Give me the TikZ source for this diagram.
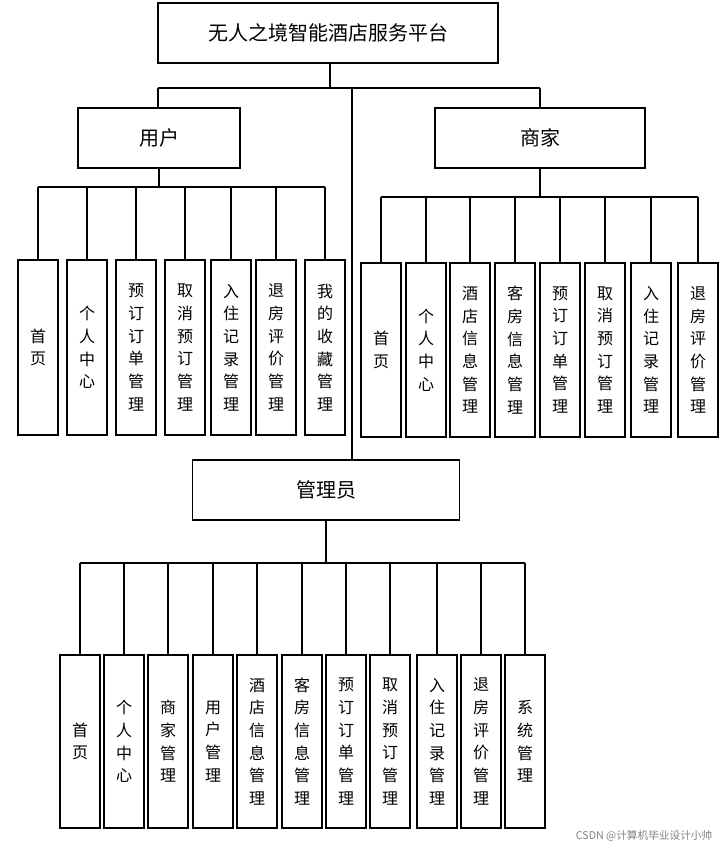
\documentclass[tikz,border=0pt]{standalone}
\usepackage{fontspec}
\newfontfamily\cjk{Noto Sans CJK SC}
\begin{document}
\begin{tikzpicture}[x=0.75pt,y=-0.75pt,
  big/.style={draw,thick,fill=white,minimum width=#1*0.75pt,minimum height=45pt,font=\cjk\fontsize{15}{18}\selectfont},
  leaf/.style={draw,thick,fill=white,minimum width=30pt,minimum height=#1*0.75pt,align=center,font=\cjk\fontsize{12}{17}\selectfont,inner sep=0pt},
  ln/.style={thick}]
\useasboundingbox (0,0) rectangle (719,849);
\node[big=340] (root) at (328,33) {无人之境智能酒店服务平台};
\node[big=162] (user) at (159,138) {用户};
\node[big=210] (shop) at (540,138) {商家};
\node[big=267] (admin) at (326,490) {管理员};
\coordinate (j) at (330,88);
\draw[ln] (root.south -| j) -- (j);
\draw[ln] (158,88) -- (540,88);
\draw[ln] (158,88) -- (user.north -| 158,0);
\draw[ln] (540,88) -- (shop.north);
\draw[ln] (352,88) -- (admin.north -| 352,0);
% user
\draw[ln] (user.south) -- (159,187);
\draw[ln] (38,187) -- (325,187);
\foreach \x/\t/\n in {38/首\\页/u1,87/个\\人\\中\\心/u2,136/预\\订\\订\\单\\管\\理/u3,185/取\\消\\预\\订\\管\\理/u4,231/入\\住\\记\\录\\管\\理/u5,276/退\\房\\评\\价\\管\\理/u6,325/我\\的\\收\\藏\\管\\理/u7}{
  \node[leaf=175] (\n) at (\x,347.5) {\t};
  \draw[ln] (\x,187) -- (\n.north);}
% shop
\draw[ln] (shop.south) -- (540,197);
\draw[ln] (381,197) -- (698,197);
\foreach \x/\t/\n in {381/首\\页/s1,426/个\\人\\中\\心/s2,470/酒\\店\\信\\息\\管\\理/s3,515/客\\房\\信\\息\\管\\理/s4,560/预\\订\\订\\单\\管\\理/s5,605/取\\消\\预\\订\\管\\理/s6,651/入\\住\\记\\录\\管\\理/s7,698/退\\房\\评\\价\\管\\理/s8}{
  \node[leaf=174] (\n) at (\x,350) {\t};
  \draw[ln] (\x,197) -- (\n.north);}
% admin
\draw[ln] (admin.south) -- (326,563);
\draw[ln] (80,563) -- (525,563);
\foreach \x/\t/\n in {80/首\\页/a1,124/个\\人\\中\\心/a2,168/商\\家\\管\\理/a3,213/用\\户\\管\\理/a4,257/酒\\店\\信\\息\\管\\理/a5,302/客\\房\\信\\息\\管\\理/a6,346/预\\订\\订\\单\\管\\理/a7,390/取\\消\\预\\订\\管\\理/a8,437/入\\住\\记\\录\\管\\理/a9,481/退\\房\\评\\价\\管\\理/a10,525/系\\统\\管\\理/a11}{
  \node[leaf=173] (\n) at (\x,741.5) {\t};
  \draw[ln] (\x,563) -- (\n.north);}
\node[font=\cjk\fontsize{8}{9}\selectfont,text=gray,anchor=east] (wm) at (717,836) {CSDN @计算机毕业设计小帅};
\end{tikzpicture}
\end{document}
